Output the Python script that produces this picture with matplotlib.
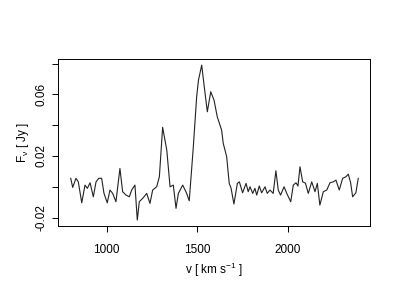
import matplotlib
matplotlib.use("Agg")
import matplotlib.pyplot as plt

# velocity (km/s) and flux density (Jy)
velocity = [801, 812, 830, 843, 862, 880, 893, 908, 926, 941, 956, 972, 985,
            1003, 1018, 1033, 1051, 1073, 1088, 1107, 1125, 1138, 1156, 1169,
            1180, 1199, 1221, 1239, 1254, 1276, 1291, 1309, 1332, 1350, 1368,
            1383, 1396, 1420, 1442, 1456, 1478, 1497, 1507, 1525, 1538, 1556,
            1575, 1593, 1611, 1635, 1644, 1663, 1677, 1687, 1703, 1722, 1733,
            1751, 1770, 1782, 1792, 1807, 1819, 1829, 1843, 1856, 1875, 1887,
            1902, 1920, 1935, 1948, 1961, 1980, 1995, 2017, 2031, 2046, 2057,
            2068, 2083, 2098, 2114, 2133, 2151, 2164, 2178, 2197, 2216, 2234,
            2252, 2267, 2285, 2304, 2322, 2335, 2348, 2359, 2377, 2390]
flux = [0.0055, -0.0004, 0.0055, 0.0032, -0.0104, 0.0011, -0.0010, 0.0026,
        -0.0065, 0.0032, 0.0055, 0.0055, -0.0043, -0.0104, -0.0021, -0.0043,
        -0.0097, 0.0119, -0.0032, -0.0054, -0.0065, -0.0021, 0.0011, -0.0216,
        -0.0097, -0.0075, -0.0043, -0.0108, -0.0021, 0.0000, 0.0065, 0.0386,
        0.0238, 0.0000, 0.0011, -0.0140, -0.0043, 0.0011, -0.0043, -0.0091,
        0.0249, 0.0584, 0.0692, 0.0790, 0.0660, 0.0487, 0.0617, 0.0563,
        0.0454, 0.0368, 0.0282, 0.0195, 0.0022, -0.0008, -0.0112, 0.0022,
        0.0032, -0.0039, 0.0022, -0.0032, 0.0000, -0.0043, -0.0010, -0.0054,
        0.0005, -0.0039, 0.0000, -0.0043, -0.0021, -0.0043, 0.0104, -0.0021,
        -0.0054, 0.0000, -0.0043, -0.0097, 0.0011, 0.0026, 0.0005, 0.0130,
        0.0032, 0.0024, -0.0043, 0.0032, -0.0032, 0.0022, -0.0119, -0.0032,
        -0.0021, 0.0026, 0.0032, 0.0043, -0.0021, 0.0055, 0.0065, 0.0082,
        0.0026, -0.0065, -0.0039, 0.0055]

xticks = [1000, 1500, 2000]
yticks = [-0.02, 0.0, 0.02, 0.04, 0.06, 0.08]
ytick_labels = ["-0.02", "", "0.02", "", "0.06", ""]

plt.rcParams["font.family"] = ["Liberation Sans", "DejaVu Sans"]
plt.rcParams["mathtext.fontset"] = "custom"
plt.rcParams["mathtext.rm"] = "Liberation Sans"
plt.rcParams["mathtext.it"] = "Liberation Sans"

fig = plt.figure(figsize=(4, 3), dpi=100)
ax = fig.add_axes([0.146, 0.248, 0.779, 0.554])
ax.plot(velocity, flux, color="#222222", lw=0.8)

ax.set_xlim(733, 2455)
ax.set_ylim(-0.0252, 0.0827)
ax.set_xticks(xticks)
ax.set_xticklabels([str(t) for t in xticks])
ax.set_yticks(yticks)
ax.set_yticklabels(ytick_labels, rotation=90, va="center")
ax.tick_params(direction="out", length=4, width=0.7, labelsize=8.5,
               colors="black")
ax.tick_params(axis="x", pad=9)
ax.tick_params(axis="y", pad=4)
for s in ax.spines.values():
    s.set_linewidth(0.7)

ax.set_xlabel("v [ km s$^{-1}$ ]", fontsize=8.5, labelpad=4)
ax.set_ylabel("F$_{\\nu}$ [ Jy ]", fontsize=8.5, labelpad=3)

fig.savefig("out.png", dpi=100)
